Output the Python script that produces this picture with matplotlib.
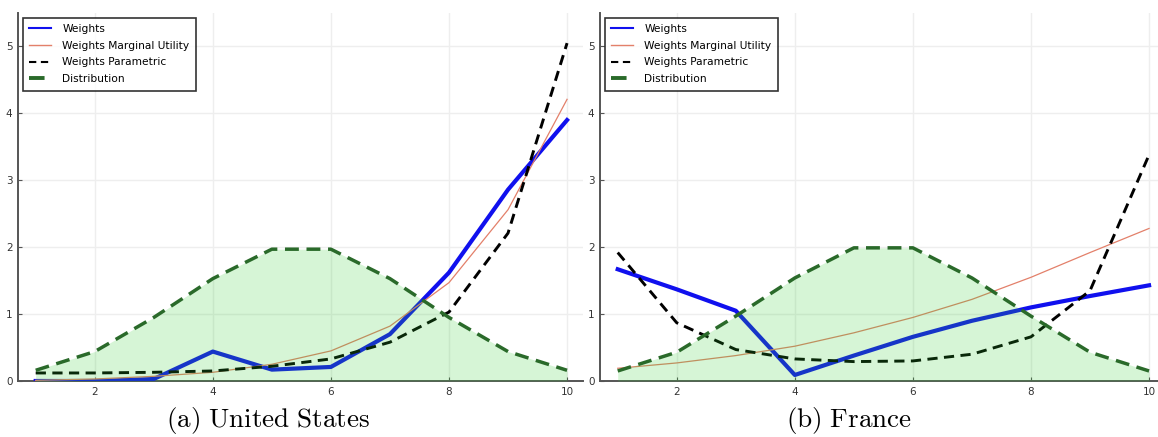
import numpy as np
import matplotlib.pyplot as plt

plt.rcParams['mathtext.fontset'] = 'cm'

x = np.arange(1, 11)

# distribution (same shape in both panels)
dist_us = [0.16, 0.44, 0.95, 1.53, 1.97, 1.97, 1.53, 0.95, 0.44, 0.16]
dist_fr = [0.15, 0.43, 0.97, 1.54, 1.99, 1.99, 1.54, 0.97, 0.43, 0.15]

# United States
w_us = [0.0, 0.0, 0.03, 0.44, 0.17, 0.21, 0.70, 1.62, 2.86, 3.90]
mu_us = [0.01, 0.03, 0.07, 0.13, 0.25, 0.45, 0.82, 1.47, 2.56, 4.21]
par_us = [0.12, 0.12, 0.13, 0.15, 0.22, 0.33, 0.58, 1.03, 2.21, 5.05]

# France
w_fr = [1.67, 1.37, 1.05, 0.09, 0.38, 0.66, 0.90, 1.10, 1.27, 1.43]
mu_fr = [0.19, 0.27, 0.38, 0.52, 0.72, 0.95, 1.22, 1.55, 1.92, 2.28]
par_fr = [1.92, 0.87, 0.47, 0.33, 0.29, 0.30, 0.40, 0.66, 1.35, 3.38]

captions = [r'$\mathrm{(a)\ United\ States}$', r'$\mathrm{(b)\ France}$']

fig = plt.figure(figsize=(11.58, 4.37), dpi=100)
W, H = 1158, 437
ax1 = fig.add_axes([18 / W, (437 - 381) / H, 565 / W, 368 / H])
ax2 = fig.add_axes([600 / W, (437 - 381) / H, 565 / W, 368 / H])

panels = [(ax1, w_us, mu_us, par_us, dist_us), (ax2, w_fr, mu_fr, par_fr, dist_fr)]

for i, (ax, w, mu, par, dist) in enumerate(panels):
    ax.plot(x, w, color='#1010ee', lw=3.0, label='Weights', zorder=3)
    ax.plot(x, mu, color='#e3806a', lw=0.9, label='Weights Marginal Utility', zorder=3)
    ax.plot(x, par, color='black', lw=2.1, ls=(0, (3.5, 2.2)), label='Weights Parametric', zorder=3)
    ax.fill_between(x, 0, dist, color='limegreen', alpha=0.2, lw=0, zorder=4)
    ax.plot(x, dist, color='#2a6a2a', lw=2.5, ls=(0, (4, 2.2)), label='Distribution', zorder=5)

    ax.set_xlim(0.7, 10.27)
    ax.set_ylim(0, 5.5)
    ax.set_xticks([2, 4, 6, 8, 10])
    ax.set_yticks([0, 1, 2, 3, 4, 5])
    ax.grid(True, color='#eeeeee', lw=1.0, zorder=0)
    ax.set_axisbelow(True)
    for s in ['top', 'right']:
        ax.spines[s].set_visible(False)
    for s in ['left', 'bottom']:
        ax.spines[s].set_color('#555555')
        ax.spines[s].set_linewidth(1.4)
    ax.tick_params(direction='in', length=3, width=0.8, color='#555555',
                   labelsize=7.5, labelcolor='#333333', pad=4)

    leg = ax.legend(loc='upper left', fontsize=7.7, frameon=True, fancybox=False,
                    edgecolor='black', borderaxespad=0.45, handlelength=2.0,
                    handletextpad=1.1, labelspacing=0.62, borderpad=0.6)
    leg.get_frame().set_linewidth(1.2)
    for ln, lw in zip(leg.get_lines(), [1.5, 1.0, 1.5, 2.8]):
        ln.set_linewidth(lw)

    cx = 268 / W if i == 0 else 849 / W
    fig.text(cx, (437 - 421) / H, captions[i], ha='center', va='center', fontsize=19.5)

fig.savefig('out.png', dpi=100)
